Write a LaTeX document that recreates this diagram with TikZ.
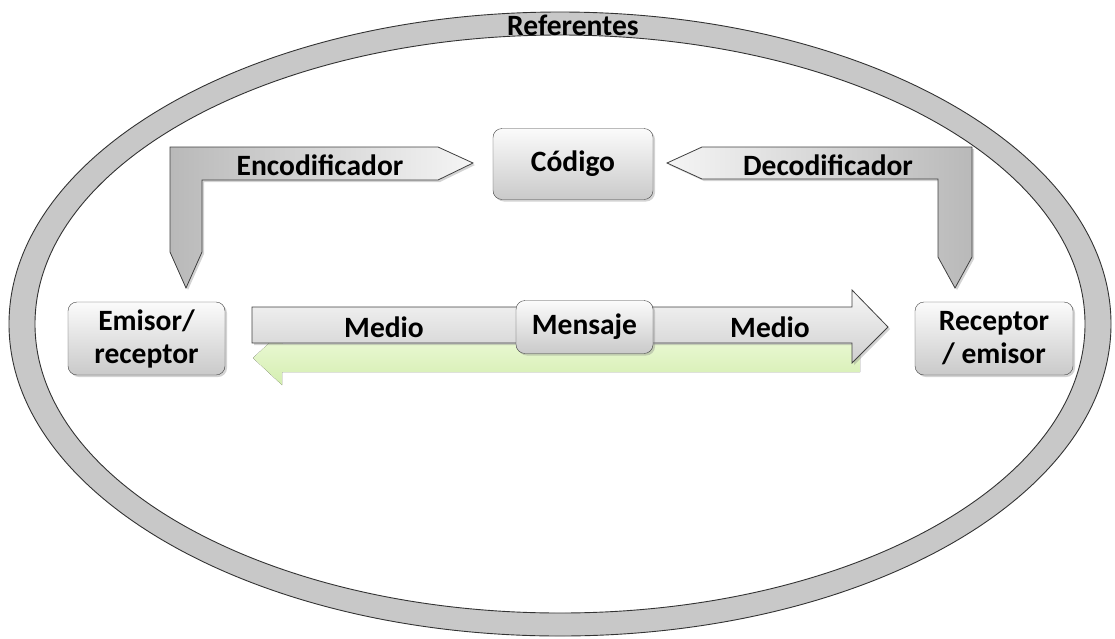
\documentclass[tikz,border=0pt]{standalone}
\usepackage{fontspec}
\setmainfont{Carlito}
\usetikzlibrary{shadows}

\definecolor{ringgray}{RGB}{200,200,200}
\definecolor{lightleaf}{RGB}{238,250,218}
\definecolor{leaf}{RGB}{212,238,176}

\tikzset{
    label/.style={font=\fontsize{29.5}{33}\selectfont\bfseries, inner sep=0pt},
    actor/.style={draw=black!75, rounded corners=9pt, top color=gray!3, bottom color=gray!42,
        drop shadow={shadow xshift=2pt, shadow yshift=-2pt, opacity=0.35},
        label, align=center, inner sep=2pt},
    blockarrow/.style={draw=black!75, line width=0.8pt,
        drop shadow={shadow xshift=2pt, shadow yshift=-2pt, opacity=0.35}}
}

\begin{document}
\begin{tikzpicture}[x=1pt, y=-1pt]
        \useasboundingbox (0, 0) rectangle (1115, 638);

        % ring of referents
        \draw[even odd rule, fill=ringgray, draw=black!80, line width=0.9pt]
            (560, 324) ellipse [x radius=551, y radius=312]
            (560, 324) ellipse [x radius=525, y radius=289];
        \node[label] (ref) at (573, 25) {Referentes};

        % return channel
        \fill[top color=lightleaf, bottom color=leaf]
            (860, 344) -- (282, 344) -- (282, 331) -- (253, 358) -- (282, 385)
            -- (282, 372) -- (860, 372) -- cycle;

        % encoder and decoder
        \draw[blockarrow, left color=gray!55, right color=gray!8]
            (170, 147) -- (438, 147) -- (473, 163) -- (438, 180) -- (202, 180)
            -- (202, 252) -- (186, 288) -- (170, 252) -- cycle;
        \draw[blockarrow, right color=gray!55, left color=gray!8]
            (972, 147) -- (702, 147) -- (667, 163) -- (702, 179) -- (938, 179)
            -- (938, 257) -- (955, 288) -- (972, 257) -- cycle;

        % channel
        \draw[blockarrow, top color=gray!6, bottom color=gray!38]
            (252, 307) -- (852, 307) -- (852, 290) -- (888, 327) -- (852, 363)
            -- (852, 343) -- (252, 343) -- cycle;

        \node[label] (enc) at (320, 165) {Encodificador};
        \node[label] (dec) at (828, 165) {Decodificador};
        \node[label] (medioA) at (384, 327) {Medio};
        \node[label] (medioB) at (770, 327) {Medio};

        \node[actor, minimum width=160pt, minimum height=71pt] (codigo) at (573, 164) {Código};
        \node[actor, minimum width=137pt, minimum height=53pt] (mensaje) at (584.5, 327) {Mensaje};
        \node[actor, minimum width=157pt, minimum height=73pt] (emisor) at (146.5, 338.5) {Emisor/\\receptor};
        \node[actor, minimum width=158pt, minimum height=73pt] (receptor) at (994, 338.5) {Receptor\\/ emisor};

    \end{tikzpicture}
\end{document}
